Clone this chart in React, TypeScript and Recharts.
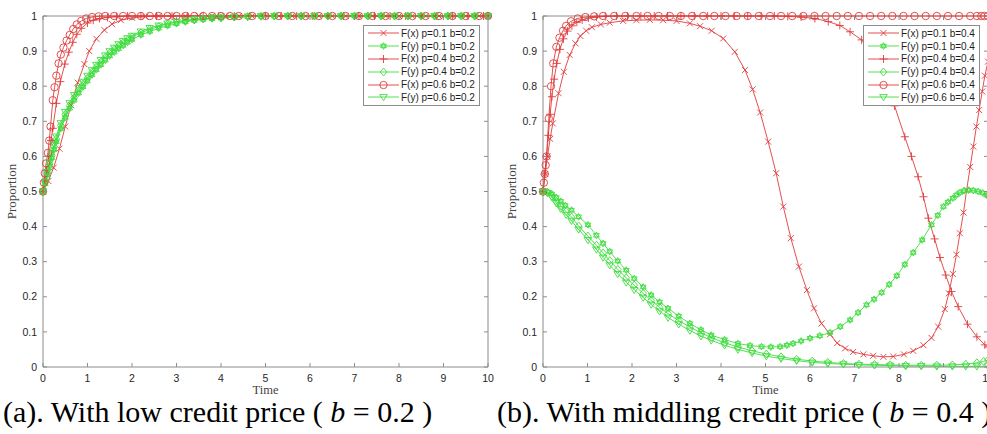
import React from 'react';
import { LineChart, Line, XAxis, YAxis, ReferenceLine, Legend, Label } from 'recharts';

type Pt = [number, number];

// ---------- panel (a): b = 0.2 ----------
const fxA_p01: Pt[] = [
  [0, 0.5], [0.12, 0.53], [0.24, 0.568], [0.37, 0.622], [0.5, 0.685], [0.63, 0.746], [0.78, 0.81],
  [0.93, 0.863], [1.04, 0.9], [1.2, 0.935], [1.38, 0.96], [1.55, 0.977], [1.75, 0.988], [2.0, 0.995],
  [2.3, 0.998], [2.6, 1], [2.9, 1], [3.2, 1], [3.5, 1], [3.8, 1], [4.1, 1], [4.4, 1], [4.7, 1], [5.0, 1],
  [5.3, 1], [5.6, 1], [5.9, 1], [6.2, 1], [6.5, 1], [6.8, 1], [7.1, 1], [7.4, 1], [7.7, 1], [8.0, 1],
  [8.3, 1], [8.6, 1], [8.9, 1], [9.2, 1], [9.5, 1], [9.8, 1], [10, 1],
];
const fxA_p04: Pt[] = [
  [0, 0.5], [0.04, 0.53], [0.08, 0.561], [0.13, 0.6], [0.18, 0.645], [0.22, 0.68], [0.3, 0.751],
  [0.39, 0.813], [0.49, 0.863], [0.58, 0.897], [0.67, 0.925], [0.76, 0.948], [0.86, 0.965], [1.0, 0.98],
  [1.13, 0.988], [1.27, 0.993], [1.45, 0.996], [1.65, 0.998], [1.9, 1], [2.2, 1], [2.55, 1], [2.9, 1],
  [3.25, 1], [3.6, 1], [3.95, 1], [4.3, 1], [4.65, 1], [5.0, 1], [5.35, 1], [5.7, 1], [6.05, 1], [6.4, 1],
  [6.75, 1], [7.1, 1], [7.45, 1], [7.8, 1], [8.15, 1], [8.5, 1], [8.85, 1], [9.2, 1], [9.55, 1], [9.9, 1], [10, 1],
];
const fxA_p06: Pt[] = [
  [0, 0.5], [0.02, 0.525], [0.04, 0.552], [0.07, 0.58], [0.11, 0.61], [0.14, 0.645], [0.17, 0.685],
  [0.22, 0.76], [0.26, 0.797], [0.3, 0.83], [0.35, 0.865], [0.4, 0.89], [0.46, 0.91], [0.53, 0.93],
  [0.6, 0.946], [0.68, 0.963], [0.76, 0.976], [0.86, 0.986], [0.97, 0.993], [1.1, 0.997], [1.25, 0.999],
  [1.4, 1], [1.6, 1], [1.8, 1], [2.0, 1], [2.2, 1], [2.4, 1], [2.6, 1], [2.8, 1], [3.0, 1], [3.2, 1],
  [3.4, 1], [3.6, 1], [3.8, 1], [4.0, 1], [4.2, 1], [4.4, 1], [4.7, 1], [5.0, 1], [5.3, 1], [5.6, 1],
  [5.9, 1], [6.2, 1], [6.5, 1], [6.8, 1], [7.1, 1], [7.4, 1], [7.7, 1], [8.0, 1], [8.3, 1], [8.6, 1],
  [8.9, 1], [9.2, 1], [9.5, 1], [9.8, 1], [10, 1],
];

// green curves of panel (a) share one time grid
const tGreenA = [
  0, 0.05, 0.1, 0.15, 0.2, 0.25, 0.3,
  0.4, 0.5, 0.6, 0.7, 0.8, 0.9, 1.0, 1.1, 1.2, 1.3, 1.4, 1.5, 1.6, 1.7, 1.8, 1.9, 2.0,
  2.2, 2.4, 2.6, 2.8, 3.0, 3.2, 3.4, 3.6, 3.8, 4.0,
  4.3, 4.6, 4.9, 5.2, 5.5, 5.8, 6.1, 6.4, 6.7, 7.0, 7.3, 7.6, 7.9, 8.2, 8.5, 8.8, 9.1, 9.4, 9.7, 10,
];
const fyA_p01 = [
  0.5, 0.522, 0.547, 0.572, 0.596, 0.62, 0.642,
  0.679, 0.711, 0.737, 0.76, 0.78, 0.798, 0.815, 0.832, 0.847, 0.861, 0.874, 0.886, 0.897, 0.907, 0.916, 0.925, 0.933,
  0.946, 0.956, 0.965, 0.972, 0.978, 0.983, 0.987, 0.99, 0.992, 0.994,
  0.996, 0.998, 0.999, 0.999, 1, 1, 1, 1, 1, 1, 1, 1, 1, 1, 1, 1, 1, 1, 1, 1,
];
const fyA_p04 = [
  0.5, 0.525, 0.552, 0.578, 0.603, 0.628, 0.65,
  0.688, 0.72, 0.745, 0.768, 0.788, 0.806, 0.823, 0.84, 0.855, 0.869, 0.882, 0.894, 0.905, 0.915, 0.924, 0.932, 0.94,
  0.952, 0.962, 0.97, 0.977, 0.982, 0.986, 0.989, 0.992, 0.994, 0.995,
  0.997, 0.998, 0.999, 1, 1, 1, 1, 1, 1, 1, 1, 1, 1, 1, 1, 1, 1, 1, 1, 1,
];
const fyA_p06 = [
  0.5, 0.528, 0.556, 0.583, 0.609, 0.634, 0.657,
  0.695, 0.727, 0.752, 0.775, 0.795, 0.813, 0.83, 0.846, 0.861, 0.875, 0.888, 0.9, 0.91, 0.92, 0.929, 0.937, 0.944,
  0.956, 0.966, 0.973, 0.979, 0.984, 0.988, 0.991, 0.993, 0.995, 0.996,
  0.998, 0.999, 1, 1, 1, 1, 1, 1, 1, 1, 1, 1, 1, 1, 1, 1, 1, 1, 1, 1,
];

// ---------- panel (b): b = 0.4 ----------
const fxB_p01: Pt[] = [
  [0, 0.5], [0.05, 0.55], [0.1, 0.6], [0.16, 0.65], [0.22, 0.694], [0.35, 0.78], [0.47, 0.841], [0.6, 0.889],
  [0.73, 0.922], [0.84, 0.943], [0.97, 0.958], [1.1, 0.968], [1.3, 0.976], [1.5, 0.981], [1.8, 0.986],
  [2.1, 0.988], [2.4, 0.989], [2.7, 0.988], [3.0, 0.986], [3.3, 0.979], [3.53, 0.971], [3.79, 0.958],
  [4.05, 0.936], [4.31, 0.898], [4.54, 0.846], [4.71, 0.791], [4.88, 0.725], [5.06, 0.642], [5.24, 0.552],
  [5.4, 0.457], [5.57, 0.367], [5.75, 0.286], [5.93, 0.219], [6.09, 0.167], [6.26, 0.124], [6.45, 0.093],
  [6.61, 0.068], [6.79, 0.053], [6.97, 0.043], [7.2, 0.036], [7.42, 0.032], [7.65, 0.029], [7.87, 0.03],
  [8.11, 0.036], [8.32, 0.046], [8.55, 0.062], [8.73, 0.083], [8.88, 0.115], [9.03, 0.165], [9.12, 0.21],
  [9.21, 0.265], [9.29, 0.32], [9.37, 0.381], [9.45, 0.44], [9.52, 0.504], [9.6, 0.57], [9.67, 0.628],
  [9.74, 0.685], [9.8, 0.732], [9.87, 0.785], [9.93, 0.83], [10, 0.87],
];
const fxB_p04: Pt[] = [
  [0, 0.5], [0.04, 0.55], [0.08, 0.6], [0.12, 0.66], [0.16, 0.72], [0.2, 0.77], [0.25, 0.82], [0.31, 0.865],
  [0.38, 0.905], [0.46, 0.935], [0.55, 0.957], [0.65, 0.972], [0.76, 0.982], [0.88, 0.989], [1.02, 0.994],
  [1.2, 0.997], [1.4, 0.999], [1.65, 1], [1.9, 1], [2.2, 1], [2.5, 1], [2.8, 1], [3.1, 1], [3.4, 1], [3.7, 1],
  [4.0, 1], [4.3, 1], [4.6, 1], [4.9, 1], [5.2, 1], [5.5, 0.999], [5.8, 0.997], [6.11, 0.993], [6.41, 0.984],
  [6.67, 0.973], [6.9, 0.955], [7.16, 0.932], [7.4, 0.89], [7.65, 0.82], [7.9, 0.744], [8.13, 0.656],
  [8.28, 0.6], [8.43, 0.542], [8.55, 0.485], [8.66, 0.424], [8.8, 0.365], [8.92, 0.312], [9.05, 0.262],
  [9.18, 0.215], [9.33, 0.172], [9.54, 0.122], [9.75, 0.086], [9.93, 0.063], [10, 0.057],
];
const fxB_p06: Pt[] = [
  [0, 0.5], [0.02, 0.525], [0.04, 0.55], [0.06, 0.575], [0.08, 0.6], [0.13, 0.708], [0.18, 0.8], [0.23, 0.865],
  [0.3, 0.912], [0.37, 0.938], [0.45, 0.958], [0.52, 0.972], [0.63, 0.985], [0.78, 0.993], [0.95, 0.997],
  [1.15, 0.999], [1.35, 1], [1.6, 1], [1.85, 1], [2.1, 1], [2.35, 1], [2.6, 1], [2.85, 1], [3.1, 1], [3.35, 1],
  [3.6, 1], [3.85, 1], [4.1, 1], [4.35, 1], [4.6, 1], [4.85, 1], [5.1, 1], [5.35, 1], [5.6, 1], [5.85, 1],
  [6.1, 1], [6.35, 1], [6.6, 1], [6.85, 1], [7.1, 1], [7.35, 1], [7.6, 1], [7.85, 1], [8.1, 1], [8.35, 1],
  [8.6, 1], [8.85, 1], [9.1, 1], [9.35, 1], [9.6, 1], [9.75, 1], [9.85, 1], [9.92, 1], [10, 1],
];
const fyB_p01: Pt[] = [
  [0, 0.5], [0.1, 0.499], [0.2, 0.493], [0.3, 0.483], [0.4, 0.472], [0.5, 0.46], [0.64, 0.447], [0.8, 0.428],
  [1.01, 0.405], [1.2, 0.375], [1.35, 0.352], [1.5, 0.329], [1.68, 0.302], [1.87, 0.276], [2.05, 0.252],
  [2.25, 0.228], [2.43, 0.205], [2.62, 0.185], [2.81, 0.167], [3.05, 0.145], [3.3, 0.124], [3.55, 0.106],
  [3.78, 0.091], [4.08, 0.078], [4.38, 0.067], [4.65, 0.061], [4.91, 0.058], [5.12, 0.057], [5.33, 0.058],
  [5.48, 0.062], [5.62, 0.067], [5.8, 0.074], [6.0, 0.082], [6.22, 0.089], [6.45, 0.098], [6.68, 0.115],
  [6.9, 0.134], [7.08, 0.155], [7.27, 0.177], [7.44, 0.193], [7.61, 0.212], [7.78, 0.235], [7.95, 0.26],
  [8.13, 0.292], [8.32, 0.326], [8.52, 0.362], [8.73, 0.405], [8.87, 0.432], [9.0, 0.457], [9.1, 0.47],
  [9.21, 0.481], [9.29, 0.49], [9.37, 0.497], [9.46, 0.502], [9.56, 0.504], [9.67, 0.503], [9.78, 0.5],
  [9.88, 0.496], [9.97, 0.49], [10, 0.488],
];
const fyB_p04: Pt[] = [
  [0, 0.5], [0.1, 0.497], [0.2, 0.487], [0.3, 0.472], [0.4, 0.458], [0.52, 0.443], [0.64, 0.427], [0.8, 0.402],
  [1.01, 0.373], [1.2, 0.347], [1.35, 0.325], [1.5, 0.303], [1.68, 0.278], [1.87, 0.254], [2.05, 0.233],
  [2.25, 0.21], [2.43, 0.19], [2.62, 0.17], [2.81, 0.152], [3.05, 0.132], [3.3, 0.114], [3.55, 0.097],
  [3.78, 0.084], [4.08, 0.069], [4.38, 0.057], [4.7, 0.046], [5.02, 0.037], [5.35, 0.029], [5.7, 0.022],
  [6.05, 0.017], [6.4, 0.013], [6.75, 0.01], [7.1, 0.008], [7.45, 0.007], [7.8, 0.006], [8.15, 0.005],
  [8.5, 0.005], [8.85, 0.005], [9.2, 0.006], [9.5, 0.008], [9.75, 0.012], [9.9, 0.016], [10, 0.02],
];
const fyB_p06: Pt[] = [
  [0, 0.5], [0.1, 0.496], [0.2, 0.484], [0.3, 0.467], [0.4, 0.451], [0.52, 0.434], [0.64, 0.417], [0.8, 0.392],
  [1.01, 0.362], [1.2, 0.335], [1.35, 0.312], [1.5, 0.29], [1.68, 0.265], [1.87, 0.241], [2.05, 0.22],
  [2.25, 0.198], [2.43, 0.178], [2.62, 0.159], [2.81, 0.141], [3.05, 0.122], [3.3, 0.104], [3.55, 0.088],
  [3.78, 0.076], [4.08, 0.062], [4.38, 0.05], [4.7, 0.04], [5.02, 0.031], [5.35, 0.024], [5.7, 0.018],
  [6.05, 0.013], [6.4, 0.01], [6.75, 0.008], [7.1, 0.006], [7.45, 0.005], [7.8, 0.004], [8.15, 0.003],
  [8.5, 0.003], [8.85, 0.002], [9.2, 0.002], [9.5, 0.002], [9.75, 0.002], [10, 0.002],
];

const xTicks = [0, 1, 2, 3, 4, 5, 6, 7, 8, 9, 10];
const yTicks = [0, 0.1, 0.2, 0.3, 0.4, 0.5, 0.6, 0.7, 0.8, 0.9, 1];

const RED = '#e03c3c';
const GREEN = '#40dc40';
const AXIS = '#8c8c8c';
const SANS = '"Liberation Sans", Arial, Helvetica, sans-serif';
const SERIF = '"Liberation Serif", "Times New Roman", serif';

// plot box (px inside each 500x400 chart)
const PLOT_L = 43;
const PLOT_R = 488;
const PLOT_T = 16;

const rows = (pts: Pt[]) => pts.map(([t, y]) => ({ t, y }));
const zipRows = (ts: number[], ys: number[]) => ts.map((t, i) => ({ t, y: ys[i] }));

type Shape = 'x' | '+' | 'o' | 'hex' | 'diamond' | 'tri';

interface Series {
  name: string;
  color: string;
  shape: Shape;
  data: { t: number; y: number }[];
}

const seriesA: Series[] = [
  { name: 'F(x) p=0.1 b=0.2', color: RED, shape: 'x', data: rows(fxA_p01) },
  { name: 'F(y) p=0.1 b=0.2', color: GREEN, shape: 'hex', data: zipRows(tGreenA, fyA_p01) },
  { name: 'F(x) p=0.4 b=0.2', color: RED, shape: '+', data: rows(fxA_p04) },
  { name: 'F(y) p=0.4 b=0.2', color: GREEN, shape: 'diamond', data: zipRows(tGreenA, fyA_p04) },
  { name: 'F(x) p=0.6 b=0.2', color: RED, shape: 'o', data: rows(fxA_p06) },
  { name: 'F(y) p=0.6 b=0.2', color: GREEN, shape: 'tri', data: zipRows(tGreenA, fyA_p06) },
];

const seriesB: Series[] = [
  { name: 'F(x) p=0.1 b=0.4', color: RED, shape: 'x', data: rows(fxB_p01) },
  { name: 'F(y) p=0.1 b=0.4', color: GREEN, shape: 'hex', data: rows(fyB_p01) },
  { name: 'F(x) p=0.4 b=0.4', color: RED, shape: '+', data: rows(fxB_p04) },
  { name: 'F(y) p=0.4 b=0.4', color: GREEN, shape: 'diamond', data: rows(fyB_p04) },
  { name: 'F(x) p=0.6 b=0.4', color: RED, shape: 'o', data: rows(fxB_p06) },
  { name: 'F(y) p=0.6 b=0.4', color: GREEN, shape: 'tri', data: rows(fyB_p06) },
];

const Marker = ({ shape, cx, cy, color }: { shape: Shape; cx: number; cy: number; color: string }) => {
  const common = { stroke: color, strokeWidth: 0.9, fill: 'none' };
  switch (shape) {
    case 'x':
      return <path d={`M${cx - 3},${cy - 3}L${cx + 3},${cy + 3}M${cx - 3},${cy + 3}L${cx + 3},${cy - 3}`} {...common} />;
    case '+':
      return <path d={`M${cx - 4},${cy}L${cx + 4},${cy}M${cx},${cy - 4}L${cx},${cy + 4}`} {...common} />;
    case 'o':
      return <circle cx={cx} cy={cy} r={3.7} {...common} />;
    case 'hex':
      return (
        <path
          d={`M${cx},${cy - 3.4}L${cx + 2.9},${cy + 1.7}L${cx - 2.9},${cy + 1.7}Z M${cx},${cy + 3.4}L${cx + 2.9},${cy - 1.7}L${cx - 2.9},${cy - 1.7}Z`}
          {...common}
        />
      );
    case 'diamond':
      return <path d={`M${cx},${cy - 4}L${cx + 3.3},${cy}L${cx},${cy + 4}L${cx - 3.3},${cy}Z`} {...common} />;
    case 'tri':
      return <path d={`M${cx - 3.8},${cy - 2.4}L${cx + 3.8},${cy - 2.4}L${cx},${cy + 3.8}Z`} {...common} />;
    default:
      return null;
  }
};

const XTick = (p: any) => {
  const { x, y, payload } = p;
  const base = y - 8;
  return (
    <g>
      <line x1={x} x2={x} y1={base} y2={base - 4} stroke={AXIS} />
      <line x1={x} x2={x} y1={PLOT_T} y2={PLOT_T + 4} stroke={AXIS} />
      <text x={x} y={y} dy="0.71em" textAnchor="middle" fontFamily={SANS} fontSize={10.5} fill="#262626">
        {payload.value}
      </text>
    </g>
  );
};

const YTick = (p: any) => {
  const { x, y, payload } = p;
  return (
    <g>
      <line x1={PLOT_L} x2={PLOT_L + 4} y1={y} y2={y} stroke={AXIS} />
      <line x1={PLOT_R} x2={PLOT_R - 4} y1={y} y2={y} stroke={AXIS} />
      <text x={x} y={y} dy="0.35em" textAnchor="end" fontFamily={SANS} fontSize={10.5} fill="#262626">
        {payload.value}
      </text>
    </g>
  );
};

const LegendBox = ({ items }: { items: Series[] }) => (
  <div
    style={{
      border: `1px solid ${AXIS}`,
      background: '#fff',
      padding: '1px 0',
      width: 117,
      boxSizing: 'border-box',
      fontFamily: SANS,
      fontSize: 10,
      color: '#1e1e1e',
    }}
  >
    {items.map((s) => (
      <div key={s.name} style={{ display: 'flex', alignItems: 'center', height: 12.8, whiteSpace: 'nowrap' }}>
        <svg width={36} height={12} style={{ flex: 'none' }}>
          <line x1={4} x2={35} y1={6} y2={6} stroke={s.color} strokeWidth={0.9} />
          <Marker shape={s.shape} cx={19.5} cy={6} color={s.color} />
        </svg>
        <span style={{ marginLeft: 1 }}>{s.name}</span>
      </div>
    ))}
  </div>
);

const Panel = ({ series, left }: { series: Series[]; left: number }) => (
  <div style={{ position: 'absolute', left, top: 0 }}>
    <LineChart width={500} height={400} margin={{ top: PLOT_T, right: 500 - PLOT_R, bottom: 0, left: 0 }}>
      <XAxis
        type="number"
        dataKey="t"
        domain={[0, 10]}
        ticks={xTicks}
        interval={0}
        height={33}
        tickSize={0}
        tickMargin={8}
        tickLine={false}
        axisLine={{ stroke: AXIS }}
        tick={(p: any) => <XTick {...p} />}
      >
        <Label value="Time" position="insideBottom" offset={6} fill="#444" fontSize={12.5} fontFamily={SERIF} />
      </XAxis>
      <YAxis
        type="number"
        domain={[0, 1]}
        ticks={yTicks}
        interval={0}
        width={PLOT_L}
        tickSize={0}
        tickMargin={6}
        tickLine={false}
        axisLine={{ stroke: AXIS }}
        tick={(p: any) => <YTick {...p} />}
      >
        <Label
          content={() => (
            <text
              x={16}
              y={191.5}
              transform="rotate(-90 16 191.5)"
              textAnchor="middle"
              fontFamily={SERIF}
              fontSize={13}
              fill="#444"
            >
              Proportion
            </text>
          )}
        />
      </YAxis>
      <ReferenceLine y={1} stroke={AXIS} />
      <ReferenceLine x={10} stroke={AXIS} />
      {series.map((s) => (
        <Line
          key={s.name}
          data={s.data}
          dataKey="y"
          type="linear"
          stroke={s.color}
          strokeWidth={0.9}
          isAnimationActive={false}
          activeDot={false}
          dot={(p: any) => <Marker key={p.index} shape={s.shape} cx={p.cx} cy={p.cy} color={s.color} />}
        />
      ))}
      <Legend
        layout="horizontal"
        verticalAlign="middle"
        align="center"
        wrapperStyle={{ left: 363, top: 25, width: 117, height: 'auto' }}
        content={() => <LegendBox items={series} />}
      />
    </LineChart>
  </div>
);

const captionStyle: React.CSSProperties = {
  position: 'absolute',
  top: 397,
  fontFamily: SERIF,
  fontSize: 30,
  lineHeight: '30px',
  whiteSpace: 'nowrap',
  color: '#000',
};

export default function App() {
  return (
    <div
      style={{
        position: 'fixed',
        left: 0,
        top: 0,
        width: 987,
        height: 434,
        overflow: 'hidden',
        background: '#fff',
      }}
    >
      <Panel series={seriesA} left={0} />
      <Panel series={seriesB} left={500} />
      <div style={{ ...captionStyle, left: 3 }}>
        (a). With low credit price ( <i>b</i> = 0.2 )
      </div>
      <div style={{ ...captionStyle, left: 497 }}>
        (b). With middling credit price ( <i>b</i> = 0.4 )
      </div>
    </div>
  );
}
